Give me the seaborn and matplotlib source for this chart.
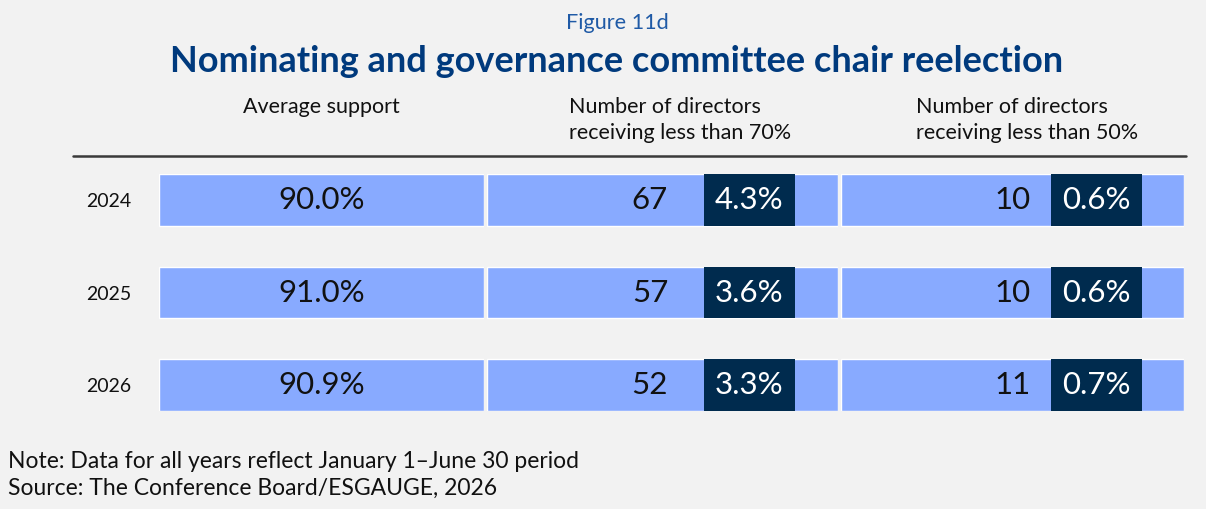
import matplotlib
matplotlib.use("Agg")
import matplotlib.pyplot as plt
import seaborn as sns
import pandas as pd

# ---- data ----
years = ["2024", "2025", "2026"]
avg_support = [90.0, 91.0, 90.9]
n_below70 = [67, 57, 52]
pct_below70 = [4.3, 3.6, 3.3]
n_below50 = [10, 10, 11]
pct_below50 = [0.6, 0.6, 0.7]
col_headers = ["Average support",
               "Number of directors\nreceiving less than 70%",
               "Number of directors\nreceiving less than 50%"]
fig_label = "Figure 11d"
title = "Nominating and governance committee chair reelection"
note = "Note: Data for all years reflect January 1\u2013June 30 period"
source = "Source: The Conference Board/ESGAUGE, 2026"

# ---- style ----
BG = "#f2f2f2"
LIGHT = "#88aaff"
DARK = "#002b4e"
TITLE_C = "#003a7d"
FIG_C = "#1f5aa6"

sns.set_theme(style="white")
plt.rcParams["font.family"] = ["Lato", "DejaVu Sans"]

W, H = 1206, 509
fig = plt.figure(figsize=(W / 100, H / 100), dpi=100, facecolor=BG)


def ax_px(x0, x1, y0, y1):
    return fig.add_axes([x0 / W, 1 - y1 / H, (x1 - x0) / W, (y1 - y0) / H])


def px(x, y):
    return x / W, 1 - y / H


BAR_W = 0.562
df = pd.DataFrame({"year": years, "full": [1.0] * len(years),
                   "avg": avg_support, "n70": n_below70, "p70": pct_below70,
                   "n50": n_below50, "p50": pct_below50})

cols = [(159, 484), (487, 838), (841, 1184)]
axes = []
for (x0, x1) in cols:
    ax = ax_px(x0, x1, 174, 411)
    sns.barplot(data=df, x="full", y="year", orient="h", color=LIGHT,
                saturation=1, width=BAR_W, errorbar=None, ax=ax)
    ax.set_xlim(0, 1)
    ax.set_ylim(len(years) - 1 + BAR_W / 2, -BAR_W / 2)
    ax.set_facecolor("none")
    for s in ax.spines.values():
        s.set_visible(False)
    ax.set_xlabel("")
    ax.set_ylabel("")
    ax.set_xticks([])
    axes.append(ax)

VAL_FS = 22.5

# column 1: average support + year labels
ax1 = axes[0]
ax1.tick_params(axis="y", length=0, pad=20, labelsize=14, labelcolor="#111111")
for i, v in enumerate(df["avg"]):
    ax1.text(0.5, i, f"{v:.1f}%", ha="center", va="center", fontsize=VAL_FS, color="#111111")

# columns 2 and 3: count + dark percentage box
specs = [(axes[1], "n70", "p70", 0.516, 0.618, 0.877),
         (axes[2], "n50", "p50", 0.554, 0.612, 0.878)]
for ax, ncol, pcol, num_right, box_l, box_r in specs:
    ax.set_yticks([])
    ax.barh(range(len(years)), width=box_r - box_l, left=box_l, height=BAR_W,
            color=DARK, linewidth=0)
    for i in range(len(years)):
        ax.text(num_right, i, f"{df[ncol][i]}", ha="right", va="center",
                fontsize=VAL_FS, color="#111111")
        ax.text((box_l + box_r) / 2, i, f"{df[pcol][i]:.1f}%", ha="center",
                va="center", fontsize=VAL_FS, color="white")

# header texts
HDR_FS = 15.5
fig.text(*px(321, 107), col_headers[0], ha="center", va="center", fontsize=HDR_FS, color="#111111")
for x, hdr in [(569, col_headers[1]), (916, col_headers[2])]:
    l1, l2 = hdr.split("\n")
    fig.text(*px(x, 107), l1, ha="left", va="center", fontsize=HDR_FS, color="#111111")
    fig.text(*px(x, 133), l2, ha="left", va="center", fontsize=HDR_FS, color="#111111")

# rule line
fig.add_artist(plt.Line2D([73 / W, 1186 / W], [1 - 156 / H, 1 - 156 / H],
                          color="#3a3a3a", linewidth=1.8))

# titles
fig.text(*px(617, 23), fig_label, ha="center", va="center", fontsize=15.6, color=FIG_C)
fig.text(*px(617, 62), title, ha="center", va="center", fontsize=26,
         fontweight="bold", color=TITLE_C)

# footer
fig.text(*px(8, 462), note, ha="left", va="center", fontsize=16.5, color="#111111")
fig.text(*px(8, 488), source, ha="left", va="center", fontsize=16.5, color="#111111")

fig.savefig("out.png", dpi=100, facecolor=BG)
